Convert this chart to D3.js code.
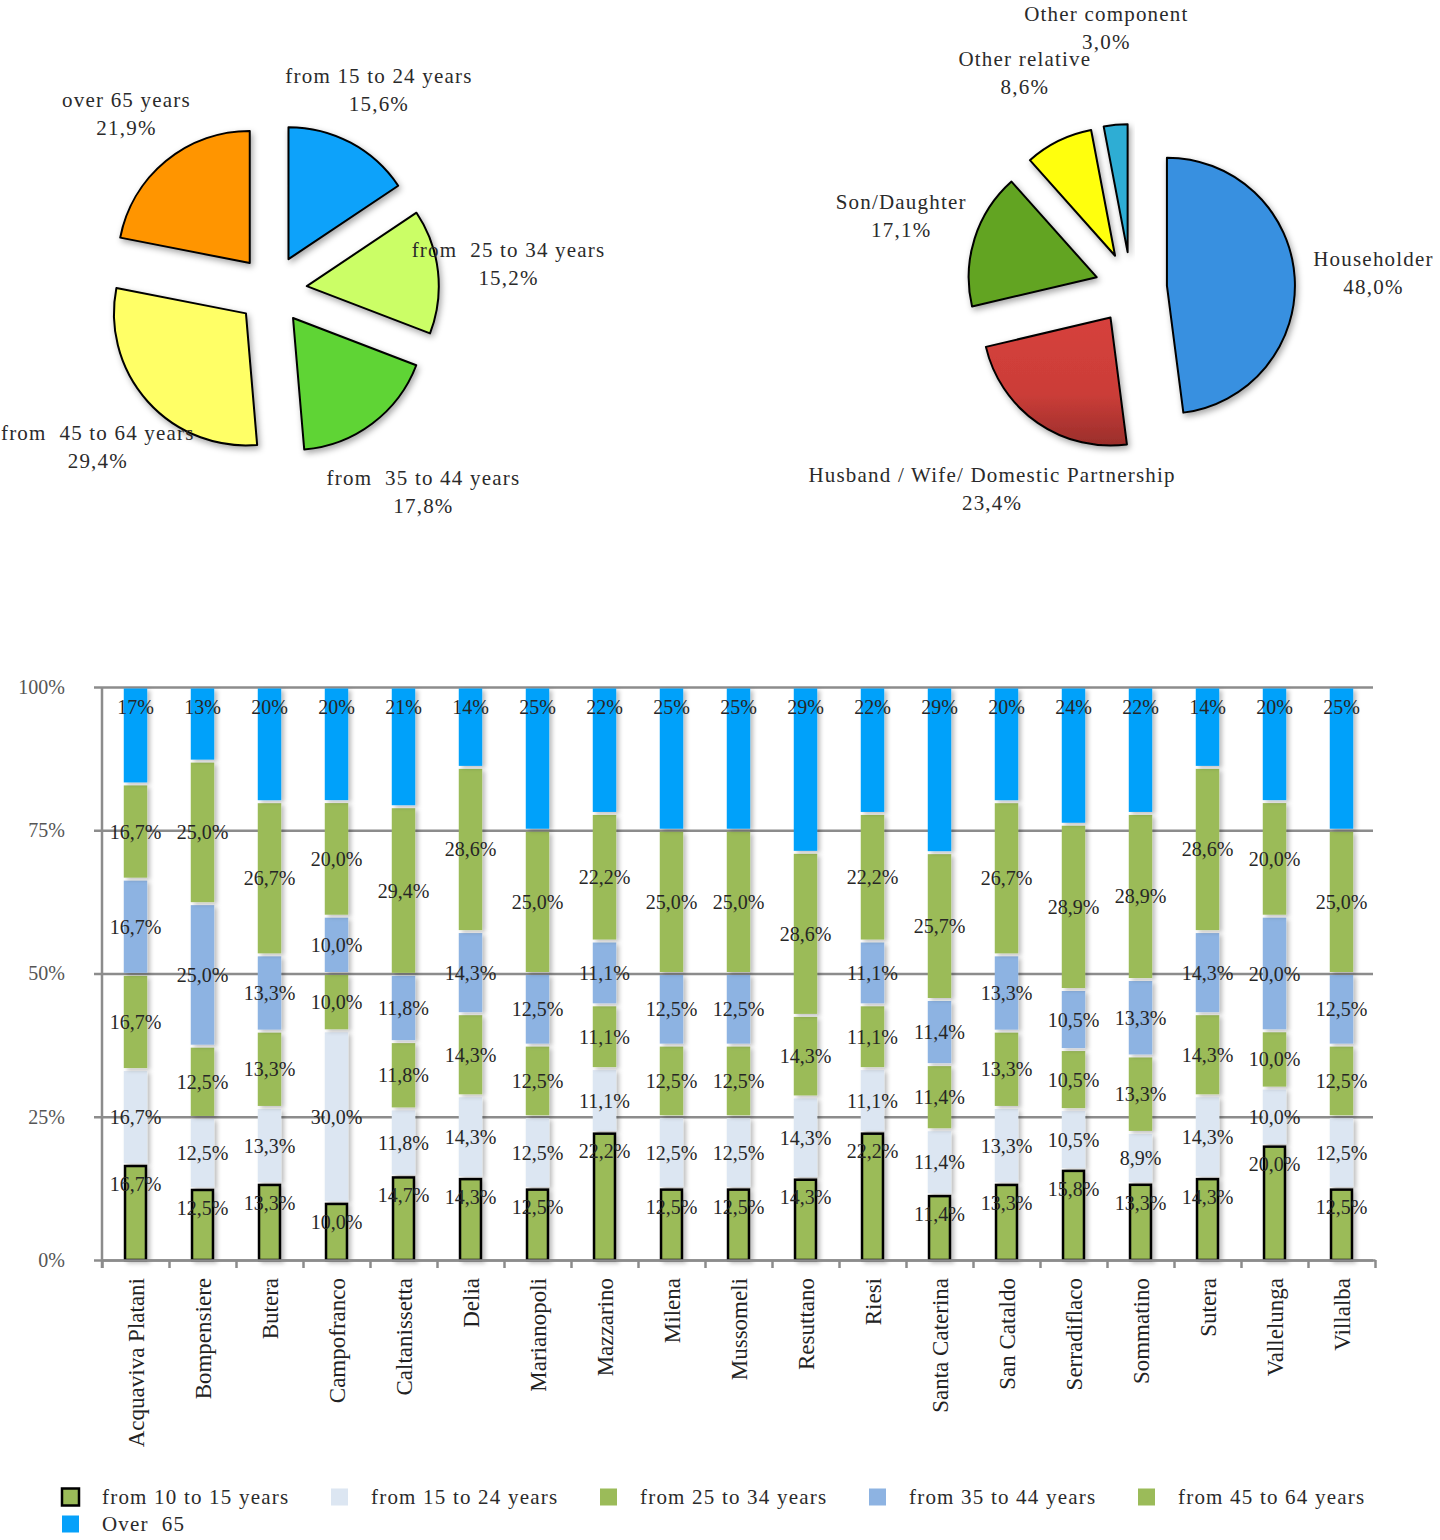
<!DOCTYPE html>
<html><head><meta charset="utf-8">
<script src="https://cdn.jsdelivr.net/npm/d3@7"></script>
<style>
body{margin:0;background:#fff;}
svg text{font-family:"Liberation Serif","DejaVu Serif",serif;}
</style></head><body>
<svg id="chart" width="1440" height="1540"></svg>
<script>
// ---------- DATA ----------
const ageLabels = ["from 15 to 24 years","from  25 to 34 years","from  35 to 44 years","from  45 to 64 years","over 65 years"];
const ageValues = [15.6,15.2,17.8,29.4,21.9];
const ageColors = ["#0AA2FA","#CBFE66","#5ED434","#FFFF66","#FF9502"];

const roleLabels = ["Householder","Husband / Wife/ Domestic Partnership","Son/Daughter","Other relative","Other component"];
const roleValues = [48.0,23.4,17.1,8.6,3.0];
const roleColors = ["#3790E0","url(#redGrad)","#62A422","#FFFF0A","#2DADD4"];

const municipalities = ["Acquaviva Platani","Bompensiere","Butera","Campofranco","Caltanissetta","Delia","Marianopoli","Mazzarino","Milena","Mussomeli","Resuttano","Riesi","Santa Caterina","San Cataldo","Serradiflaco","Sommatino","Sutera","Vallelunga","Villalba"];
const seriesNames = ["from 10 to 15 years","from 15 to 24 years","from 25 to 34 years","from 35 to 44 years","from 45 to 64 years","Over  65"];
const from10to15 = [16.7,12.5,13.3,10.0,14.7,14.3,12.5,22.2,12.5,12.5,14.3,22.2,11.4,13.3,15.8,13.3,14.3,20.0,12.5];
const from15to24 = [16.7,12.5,13.3,30.0,11.8,14.3,12.5,11.1,12.5,12.5,14.3,11.1,11.4,13.3,10.5,8.9,14.3,10.0,12.5];
const from25to34 = [16.7,12.5,13.3,10.0,11.8,14.3,12.5,11.1,12.5,12.5,14.3,11.1,11.4,13.3,10.5,13.3,14.3,10.0,12.5];
const from35to44 = [16.7,25.0,13.3,10.0,11.8,14.3,12.5,11.1,12.5,12.5,0,11.1,11.4,13.3,10.5,13.3,14.3,20.0,12.5];
const from45to64 = [16.7,25.0,26.7,20.0,29.4,28.6,25.0,22.2,25.0,25.0,28.6,22.2,25.7,26.7,28.9,28.9,28.6,20.0,25.0];
const over65     = [17,13,20,20,21,14,25,22,25,25,29,22,29,20,24,22,14,20,25];
const seriesColors = ["#9BBB59","#DCE6F2","#9BBB59","#8DB3E2","#9BBB59","#06A1FA"];
const yTicks = [0,0.25,0.5,0.75,1];

// ---------- LAYOUT / STYLE ----------
const svg = d3.select("#chart");
const locale = d3.formatLocale({decimal:",",thousands:".",grouping:[3],currency:["","€"]});
const f1 = locale.format(".1f");
const f0 = locale.format(".0f");

const defs = svg.append("defs");
const g1 = defs.append("linearGradient").attr("id","redGrad").attr("x1",0).attr("y1",0).attr("x2",0).attr("y2",1);
g1.append("stop").attr("offset","0%").attr("stop-color","#D6413C");
g1.append("stop").attr("offset","60%").attr("stop-color","#CB3D38");
g1.append("stop").attr("offset","100%").attr("stop-color","#9A2E2B");
const sh = defs.append("filter").attr("id","pieShadow").attr("x","-20%").attr("y","-20%").attr("width","150%").attr("height","150%");
sh.append("feDropShadow").attr("dx",2).attr("dy",3).attr("stdDeviation",3).attr("flood-color","#000").attr("flood-opacity",0.35);
const bsh = defs.append("filter").attr("id","barShadow").attr("x","-30%").attr("y","-10%").attr("width","170%").attr("height","125%");
bsh.append("feDropShadow").attr("dx",3).attr("dy",2).attr("stdDeviation",2).attr("flood-color","#000").attr("flood-opacity",0.25);

function drawPie(values, labels, colors, cx, cy, r, explode, labelDist) {
  const pie = d3.pie().sort(null).value(d => d)(values);
  const arc = d3.arc().innerRadius(0).outerRadius(r);
  const g = svg.append("g").attr("transform", `translate(${cx},${cy})`);
  pie.forEach((p, i) => {
    const mid = (p.startAngle + p.endAngle) / 2;
    const dx = explode * Math.sin(mid), dy = -explode * Math.cos(mid);
    g.append("path").attr("d", arc(p)).attr("transform", `translate(${dx},${dy})`)
      .attr("fill", colors[i]).attr("stroke", "#000").attr("stroke-width", 2)
      .attr("stroke-linejoin","round").attr("filter","url(#pieShadow)");
  });
  pie.forEach((p, i) => {
    const mid = (p.startAngle + p.endAngle) / 2;
    const lx = labelDist[i] * Math.sin(mid), ly = -labelDist[i] * Math.cos(mid);
    const t = g.append("text").attr("text-anchor","middle").attr("fill","#2a2a2a")
      .style("font-size","21px").style("letter-spacing","1.2px").style("white-space","pre");
    t.append("tspan").attr("x", lx).attr("y", ly - 14).attr("dy","0.35em").text(labels[i]);
    t.append("tspan").attr("x", lx).attr("y", ly + 14).attr("dy","0.35em").text(f1(values[i]) + "%");
  });
}
drawPie(ageValues, ageLabels, ageColors, 272, 290, 132, 35, [227,238,252,234,229]);
drawPie(roleValues, roleLabels, roleColors, 1131, 288, 128, 36, [243,244,241,240,262]);

// ---------- STACKED BAR ----------
const x0 = 102, x1 = 1375;
const x = d3.scaleBand().domain(municipalities).range([x0, x1]).paddingInner(0.65).paddingOuter(0.325);
const y = d3.scaleLinear().domain([0,1]).range([1260, 687]);
const keys = ["a","b","c","d","e","f"];
const seriesArrays = [from10to15, from15to24, from25to34, from35to44, from45to64, over65];
const rows = municipalities.map((m, i) => {
  const o = {name: m};
  keys.forEach((k, j) => o[k] = seriesArrays[j][i]);
  return o;
});
const stacked = d3.stack().keys(keys).offset(d3.stackOffsetExpand)(rows);

const axisColor = "#8c8c8c";
// gridlines + y labels
const yAx = svg.append("g").attr("transform", `translate(94,0)`)
  .call(d3.axisLeft(y).tickValues(yTicks).tickFormat(d3.format(".0%")).tickSize(-(1373 - 94)).tickPadding(29));
yAx.select(".domain").remove();
yAx.selectAll(".tick line").attr("stroke", axisColor).attr("stroke-width", 2.5);
yAx.selectAll(".tick text").attr("fill","#555").style("font-size","20px")
  .style("font-family",'"Liberation Serif","DejaVu Serif",serif');

// bars
const barG = svg.append("g");
stacked.forEach((s, si) => {
  if (si === 0) return;
  barG.selectAll(null).data(s.filter(d => d[1] - d[0] > 0)).join("rect")
    .attr("x", d => x(d.data.name)).attr("width", x.bandwidth())
    .attr("y", d => y(d[1]) + 1.5).attr("height", d => Math.max(0, y(d[0]) - y(d[1]) - 3))
    .attr("fill", seriesColors[si]).attr("filter","url(#barShadow)");
});
barG.selectAll(null).data(stacked[0]).join("rect")
  .attr("x", d => x(d.data.name) + 1.25).attr("width", x.bandwidth() - 2.5)
  .attr("y", d => y(d[1]) + 1.25).attr("height", d => y(d[0]) - y(d[1]) - 1.25)
  .attr("fill", seriesColors[0]).attr("stroke", "#000").attr("stroke-width", 2.5)
  .attr("filter","url(#barShadow)");

// y axis vertical line
svg.append("line").attr("x1", x0).attr("x2", x0).attr("y1", y(1)).attr("y2", y(0) + 8)
  .attr("stroke", axisColor).attr("stroke-width", 2.5);

// bottom category boundary ticks
const xb = d3.scaleLinear().domain([0, municipalities.length]).range([x0, x1]);
const xbAx = svg.append("g").attr("transform", `translate(0,${y(0)})`)
  .call(d3.axisBottom(xb).tickValues(d3.range(municipalities.length + 1)).tickFormat("").tickSizeInner(8).tickSizeOuter(0));
xbAx.select(".domain").attr("stroke", axisColor).attr("stroke-width", 2.5);
xbAx.selectAll(".tick line").attr("stroke", axisColor).attr("stroke-width", 2.5);

// category labels
const xAx = svg.append("g").attr("transform", `translate(0,${y(0)})`)
  .call(d3.axisBottom(x).tickSize(0));
xAx.select(".domain").remove();
xAx.selectAll(".tick text").attr("transform","rotate(-90)").attr("x", -18).attr("y", 0).attr("dy","0.35em")
  .style("text-anchor","end").style("font-size","23px").attr("fill","#222")
  .style("font-family",'"Liberation Serif","DejaVu Serif",serif');

// data labels
const lblG = svg.append("g").attr("text-anchor","middle").attr("fill","#262626")
  .style("font-size","20px");
stacked.forEach((s, si) => {
  lblG.selectAll(null).data(s.filter(d => d.data[keys[si]] > 0)).join("text")
    .attr("x", d => x(d.data.name) + x.bandwidth() / 2)
    .attr("y", d => {
      if (si === 0) return y(d[1]) + 19;
      if (si === 5) return y(d[1]) + 20;
      return (y(d[0]) + y(d[1])) / 2;
    })
    .attr("dy","0.35em")
    .text(d => si === 5 ? f0(d.data[keys[si]]) + "%" : f1(d.data[keys[si]]) + "%");
});

// legend
const leg = svg.append("g");
seriesNames.forEach((n, i) => {
  const lx = 62 + (i % 5) * 269, ly = 1497 + Math.floor(i / 5) * 27;
  const r = leg.append("rect").attr("x", lx).attr("y", ly - 8.5).attr("width", 17).attr("height", 17)
    .attr("fill", seriesColors[i]);
  if (i === 0) r.attr("stroke","#000").attr("stroke-width",2.5);
  leg.append("text").attr("x", lx + 40).attr("y", ly).attr("dy","0.35em").attr("fill","#2a2a2a")
    .style("font-size","21px").style("letter-spacing","1.2px").style("white-space","pre").text(n);
});
</script>
</body></html>
